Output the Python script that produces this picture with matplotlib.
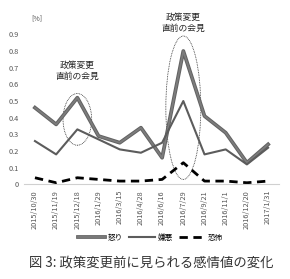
import matplotlib
matplotlib.use("Agg")
import matplotlib.pyplot as plt
import matplotlib.patheffects as pe
from matplotlib.patches import Ellipse

plt.rcParams['font.family'] = ['Noto Sans CJK JP', 'DejaVu Sans']

dates = ['2015/10/30', '2015/11/19', '2015/12/18', '2016/1/29', '2016/3/15',
         '2016/4/28', '2016/6/16', '2016/7/29', '2016/9/21', '2016/11/1',
         '2016/12/20', '2017/1/31']
anger = [0.46, 0.36, 0.52, 0.29, 0.25, 0.34, 0.16, 0.80, 0.41, 0.31, 0.13, 0.24]
disgust = [0.26, 0.18, 0.33, 0.27, 0.21, 0.19, 0.25, 0.50, 0.18, 0.21, 0.12, 0.22]
fear = [0.04, 0.01, 0.04, 0.03, 0.02, 0.02, 0.03, 0.13, 0.02, 0.02, 0.01, 0.02]
names = ['怒り', '嫌悪', '恐怖']
note = '政策変更\n直前の会見'
caption = '図 3: 政策変更前に見られる感情値の変化'

fig = plt.figure(figsize=(2.9, 2.79), dpi=100)
ax = fig.add_axes([0.084, 0.339, 0.877, 0.538])

x = range(len(dates))
ax.plot(x, anger, color='#7c7c7c', lw=1.3, label=names[0],
        path_effects=[pe.Stroke(linewidth=2.7, foreground='#626262'), pe.Normal()])
ax.plot(x, disgust, color='#5c5c5c', lw=1.5, label=names[1])
ax.plot(x, fear, color='black', lw=2.0, dashes=(3, 2), label=names[2])

# dotted ellipses round the two press conferences
for cx, cy, w, h in [(2, 0.39, 1.35, 0.31), (7, 0.46, 1.65, 0.86)]:
    ax.add_patch(Ellipse((cx, cy), w, h, fill=False, ec='#333333', lw=0.6, ls=(0, (1, 1))))

ax.text(2, 0.68, note, ha='center', va='center', fontsize=6.3, color='#222222', linespacing=1.3)
ax.text(7, 0.97, note, ha='center', va='center', fontsize=6.3, color='#222222', linespacing=1.3,
        clip_on=False)

ax.set_xlim(-0.5, len(dates) - 0.5)
ax.set_ylim(0, 0.9)
ax.set_yticks([i / 10 for i in range(10)])
ax.set_yticklabels(['0'] + ['0.%d' % i for i in range(1, 10)])
ax.set_xticks(list(x))
ax.set_xticklabels(dates, rotation=90)
ax.tick_params(axis='both', length=0, labelsize=5.3, labelcolor='#555555', pad=4)
for s in ['top', 'right', 'left']:
    ax.spines[s].set_visible(False)
ax.spines['bottom'].set_color('#d0d0d0')
ax.spines['bottom'].set_linewidth(0.8)

fig.text(0.128, 0.935, '[%]', fontsize=5, color='#555555', ha='center', va='center')

fig.legend(loc='center', bbox_to_anchor=(0.52, 0.147), ncol=3, frameon=False,
           fontsize=5.5, handlelength=3.5, columnspacing=0.8, handletextpad=0.3)

fig.text(0.52, 0.06, caption, ha='center', va='center', fontsize=9.6, color='#333333')

fig.savefig('out.png', dpi=100)
